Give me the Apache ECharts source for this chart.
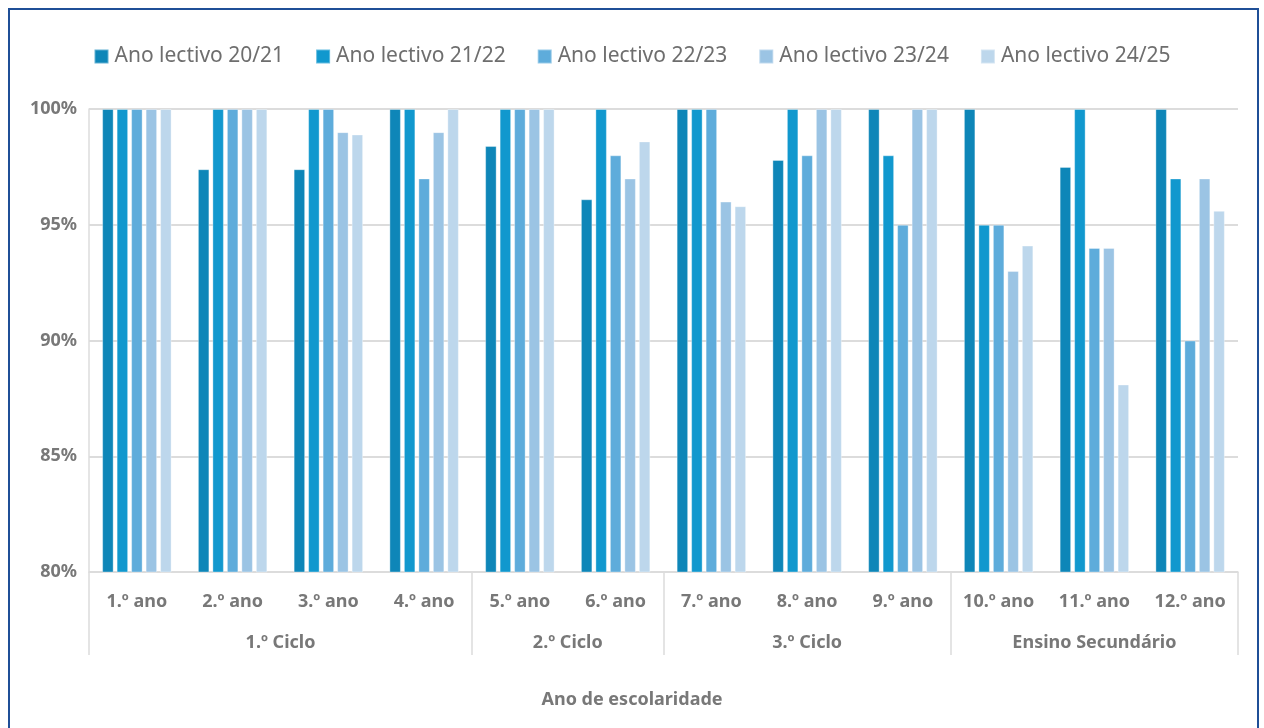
<!DOCTYPE html>
<html>
<head>
<meta charset="utf-8">
<title>Taxa de transição por ano de escolaridade</title>
<script src="https://cdn.jsdelivr.net/npm/echarts@6/dist/echarts.min.js"></script>
<style>
  html, body { margin: 0; padding: 0; background: #ffffff; }
  #wrap { position: relative; width: 1264px; height: 728px; overflow: hidden; }
  #chart { position: absolute; left: 0; top: 0; width: 1264px; height: 728px; }
  #frame {
    position: absolute; left: 8px; top: 8px; width: 1247px; height: 740px;
    border: 2px solid #1f4f97; pointer-events: none;
  }
</style>
</head>
<body>
<div id="wrap">
  <div id="chart"></div>
  <div id="frame"></div>
</div>
<script>
// School years (first axis level)
const anos = ['1.º ano', '2.º ano', '3.º ano', '4.º ano', '5.º ano', '6.º ano',
              '7.º ano', '8.º ano', '9.º ano', '10.º ano', '11.º ano', '12.º ano'];

// Cycles (second axis level) and how many school years each one spans
const ciclos = ['1.º Ciclo', '2.º Ciclo', '3.º Ciclo', 'Ensino Secundário'];
const cicloTamanhos = [4, 2, 3, 3];

// Y axis ticks (%)
const yTicks = [80, 85, 90, 95, 100];

// Series: one per school year period
const seriesNames = ['Ano lectivo 20/21', 'Ano lectivo 21/22', 'Ano lectivo 22/23',
                     'Ano lectivo 23/24', 'Ano lectivo 24/25'];
const ano2021 = [100, 97.4, 97.4, 100, 98.4, 96.1, 100, 97.8, 100, 100, 97.5, 100];
const ano2122 = [100, 100, 100, 100, 100, 100, 100, 100, 98.0, 95.0, 100, 97.0];
const ano2223 = [100, 100, 100, 97.0, 100, 98.0, 100, 98.0, 95.0, 95.0, 94.0, 90.0];
const ano2324 = [100, 100, 99.0, 99.0, 100, 97.0, 96.0, 100, 100, 93.0, 94.0, 97.0];
const ano2425 = [100, 100, 98.9, 100, 100, 98.6, 95.8, 100, 100, 94.1, 88.1, 95.6];

const colors = ['#0e86b8', '#1198ce', '#5eacdb', '#9bc4e4', '#bdd7ec'];
const seriesData = [ano2021, ano2122, ano2223, ano2324, ano2425];

// Boundaries and centres of the cycle groups, in category units
const bounds = [0];
cicloTamanhos.forEach(n => bounds.push(bounds[bounds.length - 1] + n));
const centers = cicloTamanhos.map((n, i) => bounds[i] + n / 2);

const textGray = '#787878';
const gridGray = '#dcdcdc';
const font = 'Noto Sans';

const chart = echarts.init(document.getElementById('chart'), null, { renderer: 'canvas' });

chart.setOption({
  animation: false,
  color: colors,
  textStyle: { fontFamily: font },
  title: {
    text: 'Ano de escolaridade',
    left: 'center',
    top: 686,
    textStyle: { fontFamily: font, fontSize: 18, fontWeight: 'bold', color: textGray }
  },
  legend: {
    top: 41,
    left: 'center',
    itemWidth: 14,
    itemHeight: 14,
    itemGap: 31,
    icon: 'rect',
    textStyle: { fontFamily: font, fontSize: 21, color: '#6e6e6e', padding: [0, 0, 0, 1] },
    data: seriesNames
  },
  grid: { left: 89, right: 26, top: 109, bottom: 156, containLabel: false },
  xAxis: [
    {
      type: 'category',
      data: anos,
      position: 'bottom',
      axisLine: { show: true, lineStyle: { color: gridGray, width: 1.5 } },
      axisTick: { show: false },
      axisLabel: {
        margin: 21, fontFamily: font, fontSize: 18, fontWeight: 'bold', color: textGray,
        interval: 0
      },
      splitLine: { show: false }
    },
    {
      type: 'value',
      position: 'bottom',
      min: 0,
      max: anos.length,
      axisLine: { show: false },
      splitLine: { show: false },
      axisTick: {
        show: true,
        customValues: bounds,
        length: 83,
        lineStyle: { color: gridGray, width: 1.5 }
      },
      axisLabel: {
        show: true,
        customValues: centers,
        margin: 62,
        fontFamily: font, fontSize: 18, fontWeight: 'bold', color: textGray,
        formatter: v => {
          const i = centers.findIndex(c => Math.abs(c - v) < 1e-6);
          return i >= 0 ? ciclos[i] : '';
        }
      }
    }
  ],
  yAxis: {
    type: 'value',
    min: yTicks[0],
    max: yTicks[yTicks.length - 1],
    interval: 5,
    axisLine: { show: true, lineStyle: { color: gridGray, width: 1.5 } },
    axisTick: { show: false },
    axisLabel: {
      margin: 12, fontFamily: font, fontSize: 18, fontWeight: 'bold', color: textGray,
      formatter: '{value}%'
    },
    splitLine: { show: true, lineStyle: { color: gridGray, width: 2 } }
  },
  series: seriesNames.map((name, i) => ({
    name,
    type: 'bar',
    xAxisIndex: 0,
    data: seriesData[i],
    barWidth: 11.5,
    barGap: '26%',
    itemStyle: {
      color: colors[i],
      borderColor: 'rgba(255,255,255,0.35)',
      borderWidth: 1
    }
  }))
});
</script>
</body>
</html>
